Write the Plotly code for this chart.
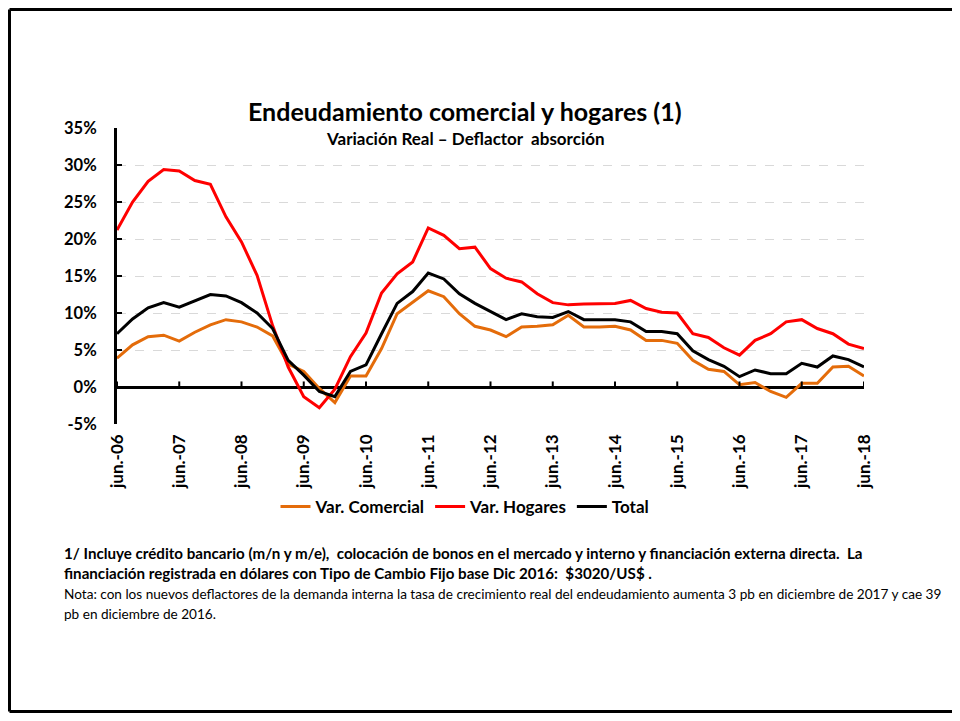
import plotly.graph_objects as go

# Quarterly categories jun-06 .. jun-18
MONTHS = ["jun", "sep", "dic", "mar"]
quarters = []
for i in range(49):
    m = MONTHS[i % 4]
    yr = 6 + (i + 2) // 4
    quarters.append(f"{m}.-{yr:02d}")

tick_labels = ["jun.-%02d" % y for y in range(6, 19)]

comercial = [3.9, 5.7, 6.8, 7.0, 6.2, 7.4, 8.4, 9.1, 8.8, 8.1, 6.9, 3.1, 2.1, -0.2, -2.1, 1.5,
             1.5, 5.2, 9.9, 11.4, 13.0, 12.2, 9.9, 8.2, 7.7, 6.8, 8.1, 8.2, 8.4, 9.7, 8.1, 8.1,
             8.2, 7.7, 6.3, 6.3, 5.9, 3.6, 2.4, 2.1, 0.3, 0.6, -0.6, -1.4, 0.5, 0.5, 2.7, 2.8, 1.5]
hogares = [21.2, 25.0, 27.8, 29.4, 29.2, 27.9, 27.4, 23.0, 19.6, 15.1, 8.3, 2.7, -1.3, -2.8, -0.3, 4.1,
           7.3, 12.7, 15.3, 16.9, 21.5, 20.5, 18.7, 18.9, 16.0, 14.7, 14.2, 12.6, 11.4, 11.1, 11.2, 11.2,
           11.3, 11.7, 10.6, 10.1, 10.0, 7.2, 6.7, 5.3, 4.3, 6.3, 7.2, 8.8, 9.1, 7.9, 7.2, 5.8, 5.2]
total = [7.2, 9.2, 10.7, 11.4, 10.8, 11.6, 12.5, 12.3, 11.4, 10.0, 7.9, 3.6, 1.6, -0.6, -1.3, 2.1,
         3.0, 7.2, 11.3, 12.9, 15.4, 14.6, 12.6, 11.3, 10.2, 9.1, 9.9, 9.5, 9.4, 10.2, 9.1, 9.1,
         9.1, 8.8, 7.5, 7.5, 7.2, 4.9, 3.7, 2.8, 1.4, 2.3, 1.8, 1.8, 3.2, 2.7, 4.2, 3.7, 2.7]

FONT = "Lato, 'Open Sans', sans-serif"

# page has an 8px body margin; plot area given in page pixels
OFF = 8
FW, FH = 944, 705
L, R, T, B = 117, 864, 128, 424


def px(x):
    return (x - L) / (R - L)


def py(y):
    return (B - y) / (B - T)


fig = go.Figure()
for name, vals, col in [("Var. Comercial", comercial, "#E46C0A"),
                        ("Var. Hogares", hogares, "#FF0000"),
                        ("Total", total, "#000000")]:
    fig.add_trace(go.Scatter(x=quarters, y=vals, name="<b>%s</b>" % name, mode="lines",
                             line=dict(color=col, width=3)))

# small tick marks on the zero line
shapes = []
for lab in tick_labels:
    idx = quarters.index(lab)
    shapes.append(dict(type="line", xref="x", yref="y", x0=idx, x1=idx, y0=0, y1=0.75,
                       line=dict(color="black", width=2)))

# page frame (top, left, bottom)
frame = dict(xref="paper", yref="paper", type="line", line=dict(color="black", width=3))
top_y, bot_y, left_x = py(OFF + 1.5), py(OFF + FH - 1.5), px(OFF + 1.5)
right_x = px(OFF + FW)
shapes.append(dict(frame, x0=left_x, x1=right_x, y0=top_y, y1=top_y))
shapes.append(dict(frame, x0=left_x, x1=right_x, y0=bot_y, y1=bot_y))
shapes.append(dict(frame, x0=left_x, x1=left_x, y0=top_y, y1=bot_y))


def note(text, x, y, size, xanchor="left"):
    return dict(text=text, x=px(x), y=py(y), xref="paper", yref="paper",
                xanchor=xanchor, yanchor="middle", showarrow=False,
                font=dict(size=size, color="black"))


annotations = [
    note("<b>Endeudamiento comercial y hogares (1)</b>", 465, 111, 25, "center"),
    note("<b>Variación Real – Deflactor  absorción</b>", 465, 138, 17, "center"),
    note("<b>1/ Incluye crédito bancario (m/n y m/e),  colocación de bonos en el mercado y interno y financiación externa directa.  La</b>",
         62, 553, 15.15),
    note("<b>financiación registrada en dólares con Tipo de Cambio Fijo base Dic 2016:  $3020/US$ .</b>",
         62, 573, 15.15),
    note("Nota: con los nuevos deflactores de la demanda interna la tasa de crecimiento real del endeudamiento aumenta 3 pb en diciembre de 2017 y cae 39",
         62, 594, 13.6),
    note("pb en diciembre de 2016.", 62, 614, 13.6),
]

fig.update_layout(
    width=FW, height=FH,
    margin=dict(l=L - OFF, r=FW - (R - OFF), t=T - OFF, b=FH - (B - OFF)),
    paper_bgcolor="white", plot_bgcolor="white",
    font=dict(family=FONT, color="black"),
    showlegend=True,
    legend=dict(orientation="h", xanchor="center", x=px(465), yanchor="middle", y=py(507),
                font=dict(size=17, color="black"), itemwidth=30, tracegroupgap=0),
    shapes=shapes,
    annotations=annotations,
    xaxis=dict(type="category", range=[0, len(quarters) - 1], tickmode="array",
               tickvals=tick_labels, ticktext=["<b>%s</b>" % t for t in tick_labels],
               tickangle=-90, tickfont=dict(size=17, color="black"), ticks="",
               showgrid=False, showline=False, zeroline=False, ticklabelstandoff=6),
    yaxis=dict(range=[-5, 35], tickmode="array",
               tickvals=list(range(-5, 40, 5)),
               ticktext=["<b>%d%%</b>" % v for v in range(-5, 40, 5)],
               tickfont=dict(size=16.5, color="black"),
               showline=True, linecolor="black", linewidth=3,
               ticks="inside", ticklen=5, tickwidth=2, tickcolor="black",
               showgrid=True, gridcolor="#d9d9d9", griddash="dash", gridwidth=1,
               zeroline=True, zerolinecolor="black", zerolinewidth=3,
               ticklabelstandoff=14),
)

fig.write_html("out.html")
